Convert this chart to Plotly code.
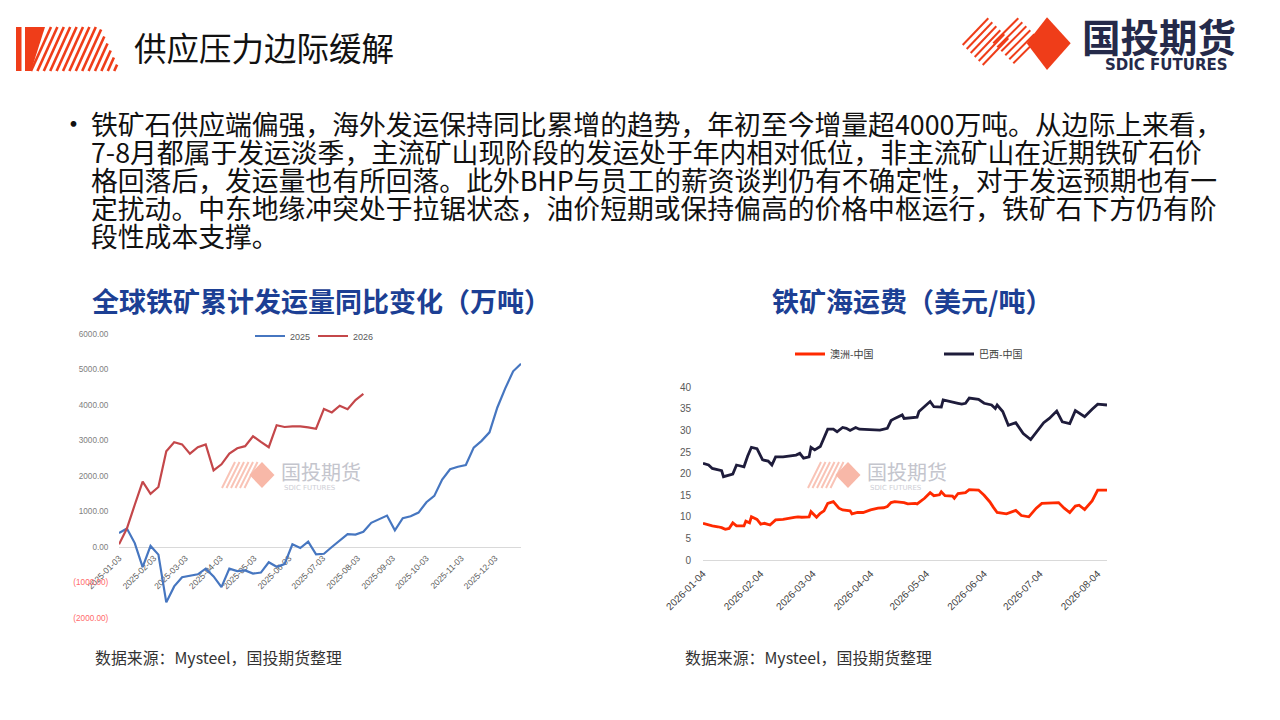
import pandas as pd
import plotly.graph_objects as go

W, H = 1280, 720

# ---------------- data ----------------
# left chart: cumulative yoy change of global iron ore shipments (10k t), weekly
week_start = "2025-01-03"
ship_2025 = [395, 520, 110, -565, 30, -215, -1560, -1110, -850, -820, -770, -610,
             -830, -1130, -610, -680, -660, -750, -720, -430, -555, -480, 75, -30,
             150, -205, -190, 0, 190, 360, 350, 430, 680, 780, 885, 470, 810, 865,
             970, 1260, 1440, 1900, 2190, 2260, 2310, 2800, 2990, 3230, 3930, 4470,
             4950, 5160]
ship_2026 = [75, 520, 1190, 1840, 1500, 1690, 2700, 2950, 2890, 2630, 2810, 2890,
             2160, 2330, 2630, 2780, 2840, 3120, 2960, 2810, 3430, 3380, 3400, 3400,
             3370, 3330, 3890, 3790, 3980, 3880, 4140, 4310]
left_yticks = [-2000, -1000, 0, 1000, 2000, 3000, 4000, 5000, 6000]
left_xticks = ["2025-01-03", "2025-02-03", "2025-03-03", "2025-04-03", "2025-05-03",
               "2025-06-03", "2025-07-03", "2025-08-03", "2025-09-03", "2025-10-03",
               "2025-11-03", "2025-12-03"]

# right chart: iron ore freight (USD/t)
aus_dates = ["2026-01-04", "2026-01-07", "2026-01-09", "2026-01-12", "2026-01-14",
             "2026-01-16", "2026-01-18", "2026-01-20", "2026-01-22", "2026-01-26",
             "2026-01-27", "2026-01-29", "2026-01-30", "2026-02-02", "2026-02-04",
             "2026-02-06", "2026-02-09", "2026-02-12", "2026-02-16", "2026-02-22",
             "2026-02-24", "2026-02-26", "2026-03-02", "2026-03-03", "2026-03-06",
             "2026-03-08", "2026-03-10", "2026-03-12", "2026-03-15", "2026-03-18",
             "2026-03-20", "2026-03-24", "2026-03-25", "2026-03-28", "2026-03-31",
             "2026-04-04", "2026-04-08", "2026-04-11", "2026-04-13", "2026-04-15",
             "2026-04-17", "2026-04-22", "2026-04-24", "2026-04-28", "2026-04-29",
             "2026-05-03", "2026-05-06", "2026-05-08", "2026-05-11", "2026-05-12",
             "2026-05-14", "2026-05-18", "2026-05-19", "2026-05-21", "2026-05-25",
             "2026-05-27", "2026-06-01", "2026-06-04", "2026-06-07", "2026-06-09",
             "2026-06-11", "2026-06-16", "2026-06-21", "2026-06-24", "2026-06-28",
             "2026-07-02", "2026-07-05", "2026-07-14", "2026-07-17", "2026-07-20",
             "2026-07-23", "2026-07-25", "2026-07-28", "2026-08-01", "2026-08-04",
             "2026-08-09"]
aus_vals = [8.5, 8.1, 7.9, 7.7, 7.5, 7.1, 7.3, 8.6, 7.9, 7.9, 9.0, 8.6, 10.0, 9.4, 8.3,
            8.5, 8.1, 9.3, 9.4, 9.9, 10.0, 9.9, 10.0, 11.2, 9.9, 10.8, 11.4, 13.1, 13.5,
            12.0, 11.6, 11.4, 10.7, 11.0, 11.0, 11.6, 12.0, 12.1, 12.4, 13.3, 13.5, 13.3,
            13.0, 13.1, 13.0, 14.3, 15.6, 14.9, 15.1, 15.8, 14.9, 14.8, 14.3, 15.4, 15.6,
            16.3, 16.2, 15.0, 13.5, 12.2, 11.0, 10.7, 11.5, 10.3, 10.0, 12.0, 13.1, 13.3,
            12.0, 11.0, 12.5, 12.7, 11.7, 13.7, 16.2, 16.2]
bra_dates = ["2026-01-04", "2026-01-07", "2026-01-09", "2026-01-12", "2026-01-14",
             "2026-01-15", "2026-01-17", "2026-01-20", "2026-01-22", "2026-01-25",
             "2026-01-26", "2026-01-28", "2026-01-30", "2026-02-02", "2026-02-04",
             "2026-02-05", "2026-02-08", "2026-02-10", "2026-02-12", "2026-02-16",
             "2026-02-23", "2026-02-25", "2026-02-27", "2026-03-02", "2026-03-03",
             "2026-03-05", "2026-03-08", "2026-03-10", "2026-03-12", "2026-03-15",
             "2026-03-17", "2026-03-20", "2026-03-22", "2026-03-24", "2026-03-27",
             "2026-03-29", "2026-04-04", "2026-04-09", "2026-04-13", "2026-04-15",
             "2026-04-17", "2026-04-21", "2026-04-22", "2026-04-27", "2026-04-29",
             "2026-04-30", "2026-05-03", "2026-05-06", "2026-05-08", "2026-05-12",
             "2026-05-13", "2026-05-18", "2026-05-21", "2026-05-23", "2026-05-25",
             "2026-05-27", "2026-06-01", "2026-06-04", "2026-06-08", "2026-06-10",
             "2026-06-11", "2026-06-14", "2026-06-17", "2026-06-21", "2026-06-25",
             "2026-06-29", "2026-07-03", "2026-07-06", "2026-07-09", "2026-07-13",
             "2026-07-16", "2026-07-20", "2026-07-23", "2026-07-28", "2026-08-01",
             "2026-08-04", "2026-08-09"]
bra_vals = [22.4, 22.0, 21.2, 20.8, 20.7, 19.3, 19.6, 19.9, 22.0, 21.8, 21.6, 24.1, 26.1,
            25.8, 24.3, 23.2, 22.9, 22.0, 23.9, 23.9, 24.3, 24.7, 23.6, 23.9, 26.1, 25.5,
            26.3, 28.2, 30.3, 30.3, 29.7, 30.7, 30.5, 30.0, 30.7, 30.3, 30.1, 30.1, 30.5,
            32.3, 32.8, 33.6, 32.8, 33.0, 33.1, 34.4, 35.5, 36.7, 35.5, 35.4, 37.1, 36.7,
            36.3, 36.1, 36.3, 37.5, 37.2, 36.3, 35.9, 35.1, 35.9, 34.4, 31.2, 31.8, 29.3,
            27.9, 30.1, 31.8, 32.8, 34.5, 32.0, 31.6, 34.6, 33.2, 34.9, 36.1, 35.9]
right_xticks = ["2026-01-04", "2026-02-04", "2026-03-04", "2026-04-04", "2026-05-04",
                "2026-06-04", "2026-07-04", "2026-08-04"]
right_yticks = [0, 5, 10, 15, 20, 25, 30, 35, 40]

bullet_lines = [
    "铁矿石供应端偏强，海外发运保持同比累增的趋势，年初至今增量超4000万吨。从边际上来看，",
    "7-8月都属于发运淡季，主流矿山现阶段的发运处于年内相对低位，非主流矿山在近期铁矿石价",
    "格回落后，发运量也有所回落。此外BHP与员工的薪资谈判仍有不确定性，对于发运预期也有一",
    "定扰动。中东地缘冲突处于拉锯状态，油价短期或保持偏高的价格中枢运行，铁矿石下方仍有阶",
    "段性成本支撑。",
]

# ---------------- helpers ----------------
CJK = "Noto Sans CJK SC"
RED = "#ef3d19"
NAVY = "#252a4a"


def fx(x):
    return x / W


def fy(y):
    return 1 - y / H


def seg(x0, y0, x1, y1, color, width):
    return dict(type="line", xref="paper", yref="paper", x0=fx(x0), y0=fy(y0),
                x1=fx(x1), y1=fy(y1), line=dict(color=color, width=width))


def poly(pts, color):
    path = "M " + " L ".join(f"{fx(a):.5f},{fy(b):.5f}" for a, b in pts) + " Z"
    return dict(type="path", xref="paper", yref="paper", path=path,
                fillcolor=color, line=dict(width=0))


def label(x, y, text, size, color, family=CJK, xanchor="left"):
    return dict(x=fx(x), y=fy(y), xref="paper", yref="paper", text=text,
                showarrow=False, xanchor=xanchor, yanchor="middle",
                font=dict(family=family, size=size, color=color))


def fmt_tick(v):
    if v < 0:
        return f"<span style='color:#ff6b6b'>({abs(v):.2f})</span>"
    return f"{v:.2f}"


shapes = []
annos = []

# header mark (left)
shapes.append(poly([(16, 27), (21.5, 27), (21.5, 71), (16, 71)], RED))
shapes.append(poly([(25, 27), (45, 27), (31, 71), (25, 71)], RED))
k = 20 / 44
top_x = 51.0
while top_x < 138:
    if top_x <= 100:
        sx, sy = top_x, 27
    else:
        t = (top_x - 100) / 2
        sx, sy = 100 + t, 27 + t / k
    shapes.append(seg(sx, sy, top_x - 20, 71, RED, 2.6))
    top_x += 6.4

# company logo (right)
for i in range(6):
    shapes.append(seg(962.7 + 4 * i, 45 + 4 * i, 988.3 + 4 * i, 18.3 + 4 * i, RED, 2))
    shapes.append(seg(993.3 + 4 * i, 43.3 + 4 * i, 1018.3 + 4 * i, 18.3 + 4 * i, RED, 2))
shapes.append(poly([(1026.7, 43.3), (1047, 17.3), (1070.7, 43.3), (1047, 70)], RED))
annos.append(label(1080, 34.5, "<b>国投期货</b>", 38.5, NAVY))
annos.append(label(1166, 64.5, "<b>SDIC FUTURES</b>", 15, NAVY, "DejaVu Sans", "center"))

# slide title
annos.append(label(132, 46, "供应压力边际缓解", 32.5, "#111111"))

# bullet paragraph
annos.append(label(58, 122, "•", 27, "#111111"))
for i, line in enumerate(bullet_lines):
    annos.append(label(89, 123 + 28.2 * i, line, 26.8, "#111111"))

# chart titles
annos.append(label(90, 300, "<b>全球铁矿累计发运量同比变化（万吨）</b>", 27, "#1c3f94"))
annos.append(label(770, 300, "<b>铁矿海运费（美元/吨）</b>", 27, "#1c3f94"))

# sources
for sx in (93, 683):
    annos.append(label(sx, 657, "数据来源：Mysteel，国投期货整理", 15.9, "#333333"))


# watermarks
def watermark(x0, cy):
    for i in range(6):
        bx = x0 + 4.5 * i
        shapes.append(seg(bx, cy + 13, bx + 13, cy - 13, "#f9c3b6", 2))
    dx = x0 + 40
    shapes.append(poly([(dx - 12.5, cy), (dx, cy - 13), (dx + 12.5, cy), (dx, cy + 13)],
                       "#f8b8a8"))
    annos.append(label(dx + 17, cy - 4, "国投期货", 20, "#c4c5cd"))
    annos.append(label(dx + 20, cy + 12.5, "SDIC FUTURES", 7, "#cdced5", "DejaVu Sans"))


watermark(222, 475)
watermark(808, 475)

# ---------------- traces ----------------
weeks = pd.date_range(week_start, periods=len(ship_2025), freq="7D")

fig = go.Figure()
fig.add_trace(go.Scatter(x=weeks, y=ship_2025, name="2025", mode="lines",
                         line=dict(color="#4676c0", width=2.2),
                         xaxis="x", yaxis="y", legend="legend"))
fig.add_trace(go.Scatter(x=weeks[:len(ship_2026)], y=ship_2026, name="2026", mode="lines",
                         line=dict(color="#c4474a", width=2.2),
                         xaxis="x", yaxis="y", legend="legend"))
fig.add_trace(go.Scatter(x=aus_dates, y=aus_vals, name="澳洲-中国", mode="lines",
                         line=dict(color="#ff2a00", width=2.8),
                         xaxis="x2", yaxis="y2", legend="legend2"))
fig.add_trace(go.Scatter(x=bra_dates, y=bra_vals, name="巴西-中国", mode="lines",
                         line=dict(color="#1e1c3b", width=2.8),
                         xaxis="x2", yaxis="y2", legend="legend2"))

left_ydom = [fy(618), fy(334)]
left_yrange = [-2000, 6000]
zero_pos = left_ydom[0] + (0 - left_yrange[0]) / (left_yrange[1] - left_yrange[0]) * (
    left_ydom[1] - left_ydom[0])

fig.update_layout(
    width=W, height=H, margin=dict(l=0, r=0, t=0, b=0, pad=0, autoexpand=False),
    paper_bgcolor="white", plot_bgcolor="white",
    font=dict(family=CJK),
    shapes=shapes, annotations=annos,
    xaxis=dict(domain=[fx(119), fx(521)], type="date",
               range=[weeks[0], weeks[-1]], anchor="free", position=zero_pos,
               showgrid=False, zeroline=False, showline=False,
               tickvals=left_xticks, ticktext=left_xticks, tickangle=-45,
               ticks="outside", ticklen=2, tickcolor="rgba(0,0,0,0)",
               tickfont=dict(family="Liberation Sans", size=8.5, color="#595959"),
               layer="below traces"),
    yaxis=dict(domain=left_ydom, range=left_yrange, anchor="x",
               showgrid=False, zeroline=True, zerolinecolor="#d9d9d9", zerolinewidth=1,
               tickvals=left_yticks, ticktext=[fmt_tick(v) for v in left_yticks],
               ticks="outside", ticklen=8, tickcolor="rgba(0,0,0,0)",
               tickfont=dict(family="Liberation Sans", size=8.2, color="#808080")),
    xaxis2=dict(domain=[fx(703), fx(1107)], type="date",
                range=["2026-01-04", "2026-08-09"], anchor="y2",
                showgrid=False, zeroline=False, showline=True, linecolor="#d9d9d9",
                linewidth=1.2, tickvals=right_xticks, ticktext=right_xticks,
                tickangle=-45, ticks="outside", ticklen=3, tickcolor="rgba(0,0,0,0)",
                tickfont=dict(family="Liberation Sans", size=10, color="#404040")),
    yaxis2=dict(domain=[fy(560), fy(387.3)], range=[0, 40], anchor="x2",
                showgrid=False, zeroline=False, tickvals=right_yticks,
                ticks="outside", ticklen=9, tickcolor="rgba(0,0,0,0)",
                tickfont=dict(family="Liberation Sans", size=10, color="#595959")),
    legend=dict(orientation="h", x=fx(250), y=fy(336), xanchor="left", yanchor="middle",
                bgcolor="rgba(0,0,0,0)", font=dict(family="Liberation Sans", size=9,
                                                   color="#595959"),
                itemwidth=30, entrywidth=18, entrywidthmode="pixels"),
    legend2=dict(orientation="h", x=fx(790), y=fy(354), xanchor="left", yanchor="middle",
                 bgcolor="rgba(0,0,0,0)", font=dict(family=CJK, size=10, color="#404040"),
                 itemwidth=30, entrywidth=104, entrywidthmode="pixels"),
    showlegend=True,
)

fig.write_html("out.html", config={"displayModeBar": False},
               post_script="document.body.style.margin = '0';")
